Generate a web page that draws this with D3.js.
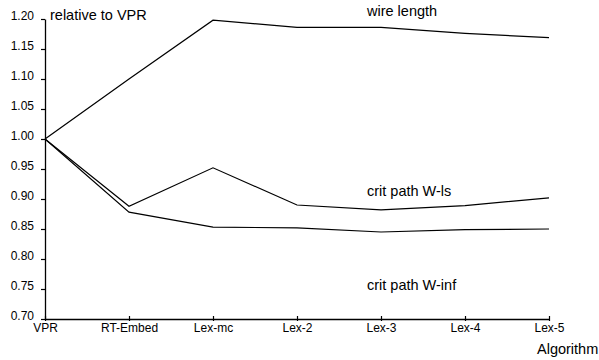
<!DOCTYPE html>
<html>
<head>
<meta charset="utf-8">
<script src="https://cdn.jsdelivr.net/npm/d3@7"></script>
<style>
  body { margin: 0; background: #fff; }
  text { font-family: "Liberation Sans", Arial, sans-serif; fill: #000; }
</style>
</head>
<body>
<div id="chart"></div>
<script>
const algorithms = ["VPR", "RT-Embed", "Lex-mc", "Lex-2", "Lex-3", "Lex-4", "Lex-5"];
const wireLength = [1.00, 1.10, 1.198, 1.186, 1.186, 1.176, 1.169];
const critPathWls = [1.00, 0.888, 0.952, 0.890, 0.882, 0.889, 0.902];
const critPathWinf = [1.00, 0.878, 0.853, 0.852, 0.845, 0.849, 0.850];
const yTicks = [0.70, 0.75, 0.80, 0.85, 0.90, 0.95, 1.00, 1.05, 1.10, 1.15, 1.20];

const seriesList = [
  { name: "wire length", values: wireLength, labelY: 1.205 },
  { name: "crit path W-ls", values: critPathWls, labelY: 0.905 },
  { name: "crit path W-inf", values: critPathWinf, labelY: 0.748 }
];

const width = 599, height = 360;
const svg = d3.select("#chart").append("svg")
  .attr("width", width)
  .attr("height", height);

const x = d3.scalePoint()
  .domain(algorithms)
  .range([45, 549]);

const y = d3.scaleLinear()
  .domain([0.70, 1.20])
  .range([319, 19]);

// y axis
const yAxis = svg.append("g")
  .attr("transform", "translate(45,0)")
  .call(d3.axisLeft(y).tickValues(yTicks).tickFormat(d3.format(".2f")).tickSize(4).tickSizeOuter(0));
yAxis.select(".domain").attr("stroke", "#000").attr("stroke-width", 1.3);
yAxis.selectAll(".tick line").attr("stroke", "#000").attr("stroke-width", 1.2);
yAxis.selectAll(".tick text")
  .attr("x", -11)
  .attr("dy", "0em")
  .style("font-size", "12px")
  .style("font-family", "'Liberation Sans', Arial, sans-serif");

// x axis
const xAxis = svg.append("g")
  .attr("transform", "translate(0,319)")
  .call(d3.axisBottom(x).tickSize(4).tickSizeOuter(0));
xAxis.select(".domain").attr("stroke", "#000").attr("stroke-width", 1.3);
xAxis.selectAll(".tick line").attr("stroke", "#000").attr("stroke-width", 1.2).attr("y1", -3).attr("y2", 2);
xAxis.selectAll(".tick text")
  .attr("y", 4)
  .style("font-size", "12px")
  .style("font-family", "'Liberation Sans', Arial, sans-serif");

// lines
const line = d3.line()
  .x((d, i) => x(algorithms[i]))
  .y(d => y(d));

seriesList.forEach(s => {
  svg.append("path")
    .datum(s.values)
    .attr("d", line)
    .attr("fill", "none")
    .attr("stroke", "#000")
    .attr("stroke-width", 1.2);

  svg.append("text")
    .attr("x", 367)
    .attr("y", y(s.labelY))
    .style("font-size", "14.5px")
    .text(s.name);
});

// axis titles
svg.append("text")
  .attr("x", 50)
  .attr("y", 20)
  .style("font-size", "14.5px")
  .text("relative to VPR");

svg.append("text")
  .attr("x", 537)
  .attr("y", 354)
  .style("font-size", "14.5px")
  .text("Algorithm");
</script>
</body>
</html>
